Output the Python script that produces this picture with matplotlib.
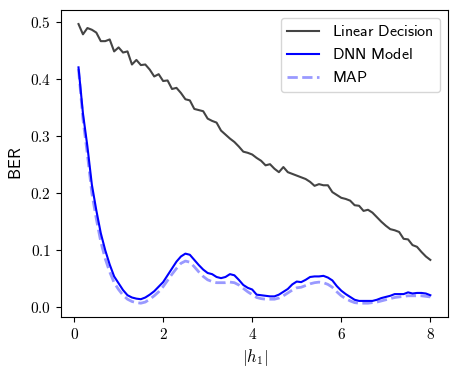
import numpy as np
from matplotlib import pyplot as plt
from matplotlib.ticker import FuncFormatter

plt.rcParams.update({"mathtext.fontset": "cm",
                     "font.size": 11})

# |h1| grid, 0.1 .. 8.0
h1 = np.round(np.arange(1, 81) * 0.1, 1)

linear_ber = [0.497, 0.479, 0.490, 0.487, 0.482, 0.467, 0.467, 0.470, 0.449, 0.456,
              0.447, 0.449, 0.426, 0.434, 0.425, 0.426, 0.417, 0.405, 0.409, 0.397,
              0.398, 0.383, 0.385, 0.376, 0.365, 0.363, 0.348, 0.346, 0.344, 0.331,
              0.327, 0.324, 0.310, 0.303, 0.296, 0.290, 0.282, 0.273, 0.271, 0.268,
              0.262, 0.257, 0.249, 0.251, 0.243, 0.237, 0.246, 0.237, 0.234, 0.231,
              0.228, 0.225, 0.220, 0.213, 0.216, 0.214, 0.214, 0.202, 0.197, 0.192,
              0.190, 0.187, 0.179, 0.178, 0.169, 0.171, 0.166, 0.158, 0.150, 0.143,
              0.137, 0.135, 0.132, 0.120, 0.119, 0.109, 0.106, 0.097, 0.089, 0.083]

dnn_ber = [0.421, 0.340, 0.282, 0.215, 0.170, 0.130, 0.100, 0.075, 0.054, 0.042,
           0.030, 0.021, 0.017, 0.015, 0.014, 0.017, 0.022, 0.028, 0.036, 0.044,
           0.056, 0.068, 0.080, 0.089, 0.094, 0.092, 0.083, 0.074, 0.066, 0.060,
           0.058, 0.053, 0.051, 0.053, 0.058, 0.056, 0.048, 0.039, 0.034, 0.031,
           0.022, 0.021, 0.020, 0.019, 0.019, 0.022, 0.027, 0.032, 0.040, 0.045,
           0.044, 0.048, 0.053, 0.054, 0.054, 0.055, 0.052, 0.047, 0.037, 0.029,
           0.023, 0.018, 0.013, 0.011, 0.011, 0.011, 0.011, 0.013, 0.016, 0.018,
           0.020, 0.023, 0.023, 0.023, 0.026, 0.024, 0.025, 0.025, 0.024, 0.021]

map_ber = [0.418, 0.330, 0.268, 0.200, 0.155, 0.115, 0.085, 0.062, 0.043, 0.031,
           0.021, 0.014, 0.010, 0.008, 0.007, 0.009, 0.014, 0.020, 0.027, 0.036,
           0.047, 0.058, 0.068, 0.077, 0.081, 0.079, 0.071, 0.062, 0.054, 0.048,
           0.045, 0.043, 0.043, 0.043, 0.044, 0.043, 0.039, 0.033, 0.027, 0.022,
           0.017, 0.015, 0.014, 0.014, 0.014, 0.016, 0.020, 0.025, 0.030, 0.034,
           0.035, 0.038, 0.041, 0.043, 0.044, 0.043, 0.040, 0.035, 0.027, 0.020,
           0.015, 0.011, 0.008, 0.007, 0.007, 0.007, 0.008, 0.009, 0.011, 0.013,
           0.015, 0.017, 0.018, 0.019, 0.020, 0.020, 0.020, 0.020, 0.019, 0.018]

fig = plt.figure(figsize=(4.58, 3.74), dpi=100)
ax = fig.add_axes([0.133, 0.152, 0.845, 0.821])

ax.plot(h1, linear_ber, color="#444444", lw=1.5, label=r"$\mathsf{Linear\ Decision}$")
ax.plot(h1, dnn_ber, color="blue", lw=1.5, label=r"$\mathsf{DNN\ Model}$")
ax.plot(h1, map_ber, color="blue", alpha=0.4, lw=2, ls="--", label=r"$\mathsf{MAP}$")

ax.set_xticks([0, 2, 4, 6, 8])
ax.set_yticks([0.0, 0.1, 0.2, 0.3, 0.4, 0.5])
ax.xaxis.set_major_formatter(FuncFormatter(lambda v, p: f"${v:.0f}$"))
ax.yaxis.set_major_formatter(FuncFormatter(lambda v, p: f"${v:.1f}$"))
ax.set_xlabel(r"$|h_1|$", fontsize=12)
ax.set_ylabel(r"$\mathsf{BER}$", fontsize=12)
ax.legend(loc="upper right", fontsize=11.5)

fig.savefig("out.png", dpi=100)
